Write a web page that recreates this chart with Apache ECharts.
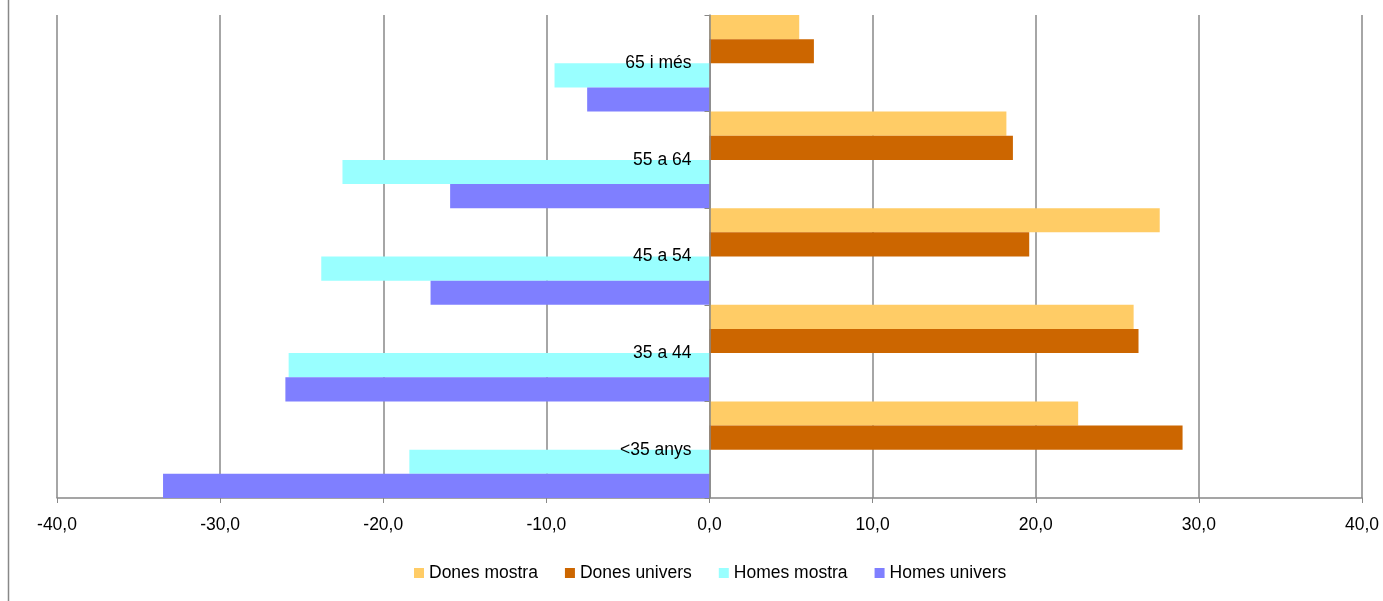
<!DOCTYPE html>
<html>
<head>
<meta charset="utf-8">
<script src="https://cdn.jsdelivr.net/npm/echarts@6/dist/echarts.min.js"></script>
<style>html,body{margin:0;padding:0;background:#fff}#c{width:1383px;height:601px}</style>
</head>
<body>
<div id="c"></div>
<script>
var categories = ['65 i més', '55 a 64', '45 a 54', '35 a 44', '<35 anys'];
var donesMostra = [5.5, 18.2, 27.6, 26.0, 22.6];
var donesUnivers = [6.4, 18.6, 19.6, 26.3, 29.0];
var homesMostra = [-9.5, -22.5, -23.8, -25.8, -18.4];
var homesUnivers = [-7.5, -15.9, -17.1, -26.0, -33.5];
var xTicks = [-40, -30, -20, -10, 0, 10, 20, 30, 40];

var font = '"Liberation Sans", Arial, sans-serif';
var fs = 17.5;
var gridLeft = 57;
var chart = echarts.init(document.getElementById('c'));
function bar(name, data, color) {
  return { name: name, type: 'bar', data: data, barCategoryGap: 0, barGap: 0,
    itemStyle: { color: color } };
}
chart.setOption({
  animation: false,
  textStyle: { fontFamily: font },
  graphic: [{ type: 'line', shape: { x1: 8.5, y1: 0, x2: 8.5, y2: 601 }, style: { stroke: '#888', lineWidth: 1.5 } }],
  grid: { left: gridLeft, right: 21, top: 15, bottom: 103, containLabel: false, outerBoundsMode: 'none' },
  legend: {
    bottom: 14, left: 409, icon: 'rect', itemWidth: 10, itemHeight: 10, itemGap: 27, itemTextGap: 6,
    textStyle: { fontSize: fs, color: '#000', fontFamily: font },
    data: ['Dones mostra', 'Dones univers', 'Homes mostra', 'Homes univers']
  },
  xAxis: {
    type: 'value', min: xTicks[0], max: xTicks[xTicks.length - 1], interval: 10,
    axisLine: { show: true, onZero: false, lineStyle: { color: '#888', width: 1.5 } },
    axisTick: { show: true, length: 5, lineStyle: { color: '#888' } },
    splitLine: { show: true, lineStyle: { color: '#888', width: 1.5 } },
    axisLabel: { fontSize: fs, color: '#000', margin: 18, fontFamily: font,
      formatter: function (v) { return v.toFixed(1).replace('.', ','); } }
  },
  yAxis: {
    type: 'category', data: categories, inverse: true, z: 5,
    axisLine: { show: true, onZero: false, lineStyle: { color: '#888', width: 1.5 } },
    axisTick: { show: true, length: 5, alignWithLabel: false, lineStyle: { color: '#888' } },
    axisLabel: { fontSize: fs, color: '#000', margin: 18, fontFamily: font }
  },
  series: [
    bar('Dones mostra', donesMostra, '#FFCC66'),
    bar('Dones univers', donesUnivers, '#CC6600'),
    bar('Homes mostra', homesMostra, '#99FFFF'),
    bar('Homes univers', homesUnivers, '#7F7FFF')
  ]
});
var zeroPx = chart.convertToPixel({ xAxisIndex: 0 }, 0);
chart.setOption({ yAxis: { offset: -(zeroPx - gridLeft) } });
</script>
</body>
</html>
